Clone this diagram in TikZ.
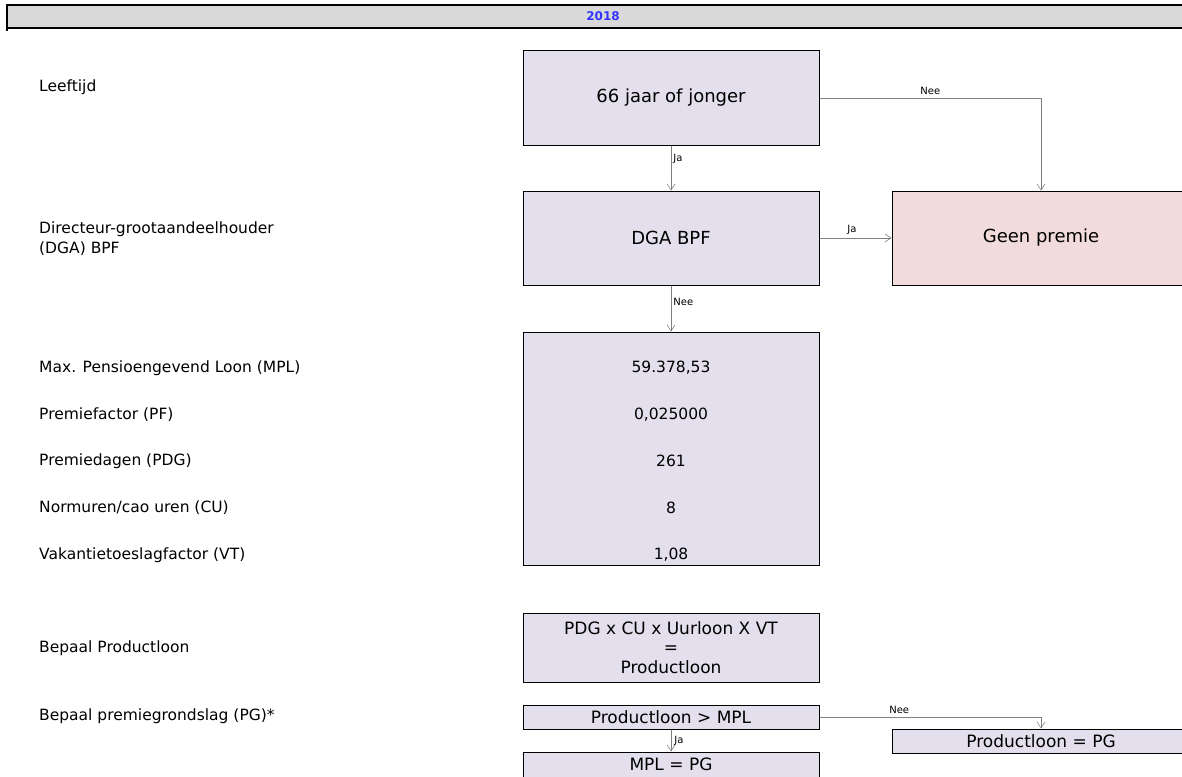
\documentclass[tikz,border=0pt]{standalone}
\usepackage{fontspec}
\setmainfont{DejaVu Sans}
\usetikzlibrary{arrows.meta}
\definecolor{lila}{HTML}{E4DFEC}
\definecolor{roze}{HTML}{F2DCDB}
\definecolor{kop}{HTML}{D9D9D9}
\definecolor{jaar}{HTML}{3333FF}
\tikzstyle{box}=[rectangle, draw=black, line width=1pt, fill=lila, minimum width=296, inner sep=0, text centered, font=\fontsize{17}{20}\selectfont]
\tikzstyle{groot}=[box, font=\fontsize{18}{21}\selectfont]
\tikzstyle{stop}=[groot, fill=roze, minimum width=298]
\tikzstyle{lbl}=[anchor=west, inner sep=0, align=left, font=\fontsize{15.5}{20}\selectfont]
\tikzstyle{val}=[inner sep=0, font=\fontsize{15.5}{18}\selectfont]
\tikzstyle{tag}=[inner sep=0, font=\fontsize{10}{12}\selectfont]
\tikzstyle{arrow}=[draw=black!50, line width=0.8pt, -{Straight Barb[length=6pt,width=8pt,line width=0.6pt]}]

\begin{document}
\begin{tikzpicture}[x=1pt,y=-1pt]
\clip (0,0) rectangle (1182,776);
% kopbalk
\fill[kop] (7,5) rectangle (1190,28);
\draw[line width=2.4pt] (1190,5)--(7,5)--(7,31);
\draw[line width=2.4pt] (7,28)--(1190,28);
\node[font=\bfseries\fontsize{12}{14}\selectfont, text=jaar] (jaar) at (603,16) {2018};
% labels links
\node[lbl] (leeftijd) at (39,87) {Leeftijd};
\node[lbl] (dga) at (39,239) {Directeur-grootaandeelhouder\\(DGA) BPF};
\node[lbl] (mpl) at (39,368) {Max. Pensioengevend Loon (MPL)};
\node[lbl] (pf) at (39,415) {Premiefactor (PF)};
\node[lbl] (pdg) at (39,461) {Premiedagen (PDG)};
\node[lbl] (cu) at (39,508) {Normuren/cao uren (CU)};
\node[lbl] (vt) at (39,555) {Vakantietoeslagfactor (VT)};
\node[lbl] (bpl) at (39,648) {Bepaal Productloon};
\node[lbl] (bpg) at (39,716) {Bepaal premiegrondslag (PG)*};
% blokken
\node[groot, minimum height=94] (leeft) at (671,98) {66 jaar of jonger};
\node[groot, minimum height=94] (dgabpf) at (671,238) {DGA BPF};
\node[stop, minimum height=94] (geen) at (1041,238) {Geen premie};
\node[box, minimum height=233] (waarden) at (671,448.5) {};
\node[val] (vmpl) at (671,368) {59.378,53};
\node[val] (vpf) at (671,415) {0,025000};
\node[val] (vpdg) at (671,461) {261};
\node[val] (vcu) at (671,508) {8};
\node[val] (vvt) at (671,555) {1,08};
\node[box, minimum height=69, align=center, font=\fontsize{17}{19.5}\selectfont] (formule) at (671,647.5) {PDG x CU x Uurloon X VT\\=\\Productloon};
\node[box, minimum height=24] (groter) at (671,717) {Productloon > MPL};
\node[box, minimum height=25] (mplpg) at (671,764.5) {MPL = PG};
\node[box, minimum height=24, minimum width=298] (plpg) at (1041,741) {Productloon = PG};
% pijlen
\draw[arrow] (leeft) -- node[tag, right=2pt, pos=0.3] {Ja} (dgabpf);
\draw[arrow] (leeft.east) -| node[tag, above=3pt, pos=0.25] {Nee} (geen.north);
\draw[arrow] (dgabpf) -- node[tag, above=3pt, pos=0.45] {Ja} (geen);
\draw[arrow] (dgabpf) -- node[tag, right=2pt, pos=0.35] {Nee} (waarden);
\draw[arrow] (groter.east) -| node[tag, above=3pt, pos=0.18] {Nee} (plpg.north);
\draw[arrow] (groter) -- node[tag, right=3pt, pos=0.5] {Ja} (mplpg);
\end{tikzpicture}
\end{document}
